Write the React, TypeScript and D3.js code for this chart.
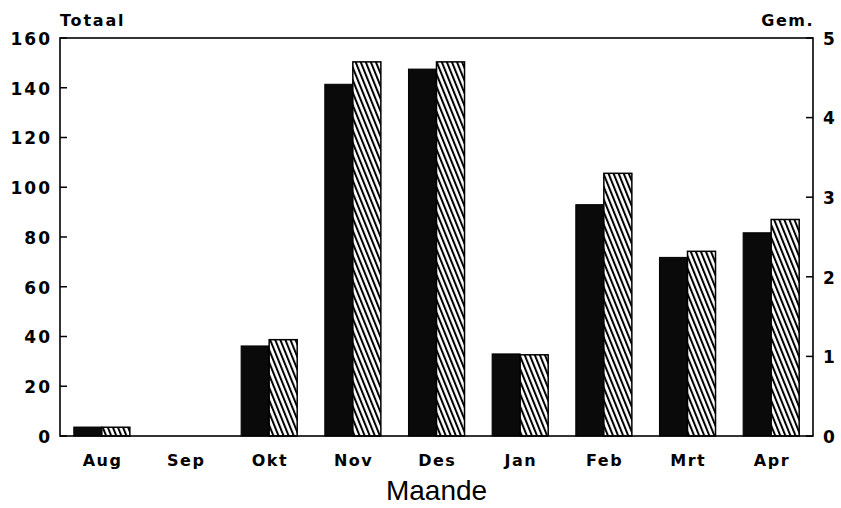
import React from "react";
import * as d3 from "d3";

const months = ["Aug", "Sep", "Okt", "Nov", "Des", "Jan", "Feb", "Mrt", "Apr"];
const totaal = [3.6, 0, 36.2, 141.4, 147.5, 33, 93, 71.8, 81.7];
const gemiddeld = [0.11, 0, 1.21, 4.7, 4.7, 1.02, 3.3, 2.32, 2.72];
const leftTicks = [0, 20, 40, 60, 80, 100, 120, 140, 160];
const rightTicks = [0, 1, 2, 3, 4, 5];

const W = 841;
const H = 508;
const M = { left: 60, right: 28, top: 38, bottom: 72 };

export default function App() {
  const x = d3
    .scaleBand<string>()
    .domain(months)
    .range([M.left, W - M.right])
    .paddingInner(0.33)
    .paddingOuter(0.165);
  const sub = d3.scaleBand<string>().domain(["t", "g"]).range([0, x.bandwidth()]);
  const yL = d3.scaleLinear().domain([0, 160]).range([H - M.bottom, M.top]);
  const yR = d3.scaleLinear().domain([0, 5]).range([H - M.bottom, M.top]);
  const font = "'DejaVu Sans', Arial, Helvetica, sans-serif";
  const x0 = M.left;
  const x1 = W - M.right;
  const yb = H - M.bottom;
  const yt = M.top;

  return (
    <svg
      width={W}
      height={H}
      style={{ position: "absolute", left: 0, top: 0, background: "#fff" }}
      fontFamily={font}
    >
      <defs>
        <pattern id="hatch" patternUnits="userSpaceOnUse" width="4.7" height="10" patternTransform="rotate(-22)">
          <rect width="4.7" height="10" fill="#fff" />
          <line x1="1" y1="0" x2="1" y2="10" stroke="#000" strokeWidth="2" />
        </pattern>
      </defs>
      {/* bars */}
      {months.map((m, i) => (
        <g key={m}>
          {totaal[i] > 0 && (
            <rect
              x={(x(m) as number) + (sub("t") as number)}
              y={yL(totaal[i])}
              width={sub.bandwidth()}
              height={yb - yL(totaal[i])}
              fill="#0a0a0a"
              stroke="#000"
              strokeWidth={1}
            />
          )}
          {gemiddeld[i] > 0 && (
            <rect
              x={(x(m) as number) + (sub("g") as number)}
              y={yR(gemiddeld[i])}
              width={sub.bandwidth()}
              height={yb - yR(gemiddeld[i])}
              fill="url(#hatch)"
              stroke="#000"
              strokeWidth={1.5}
            />
          )}
        </g>
      ))}
      {/* frame */}
      <rect x={x0} y={yt} width={x1 - x0} height={yb - yt} fill="none" stroke="#000" strokeWidth={1.6} />
      {/* left ticks */}
      {leftTicks.map((t) => (
        <g key={"l" + t}>
          <line x1={x0} x2={x0 + 7} y1={yL(t)} y2={yL(t)} stroke="#000" strokeWidth={1.5} />
          <text x={x0 - 8} y={yL(t)} dy="0.4em" textAnchor="end" fontSize={17} fontWeight={700} letterSpacing={2}>
            {t}
          </text>
        </g>
      ))}
      {/* right ticks */}
      {rightTicks.map((t) => (
        <g key={"r" + t}>
          <line x1={x1 - 7} x2={x1} y1={yR(t)} y2={yR(t)} stroke="#000" strokeWidth={1.5} />
          <text x={x1 + 10} y={yR(t)} dy="0.4em" textAnchor="start" fontSize={17} fontWeight={700}>
            {t}
          </text>
        </g>
      ))}
      {/* x labels */}
      {months.map((m) => (
        <text
          key={"x" + m}
          x={(x(m) as number) + x.bandwidth() / 2 + 0.75}
          y={yb + 30}
          textAnchor="middle"
          fontSize={16}
          fontWeight={700}
          letterSpacing={1.5}
        >
          {m}
        </text>
      ))}
      <text x={x0} y={26} fontSize={16} fontWeight={700} letterSpacing={1.8}>
        Totaal
      </text>
      <text x={x1 + 1} y={26} fontSize={16} fontWeight={700} textAnchor="end" letterSpacing={1.5}>
        Gem.
      </text>
      <text x={(x0 + x1) / 2} y={500} fontFamily="'Liberation Sans', Arial, sans-serif" fontSize={28} textAnchor="middle">
        Maande
      </text>
    </svg>
  );
}
